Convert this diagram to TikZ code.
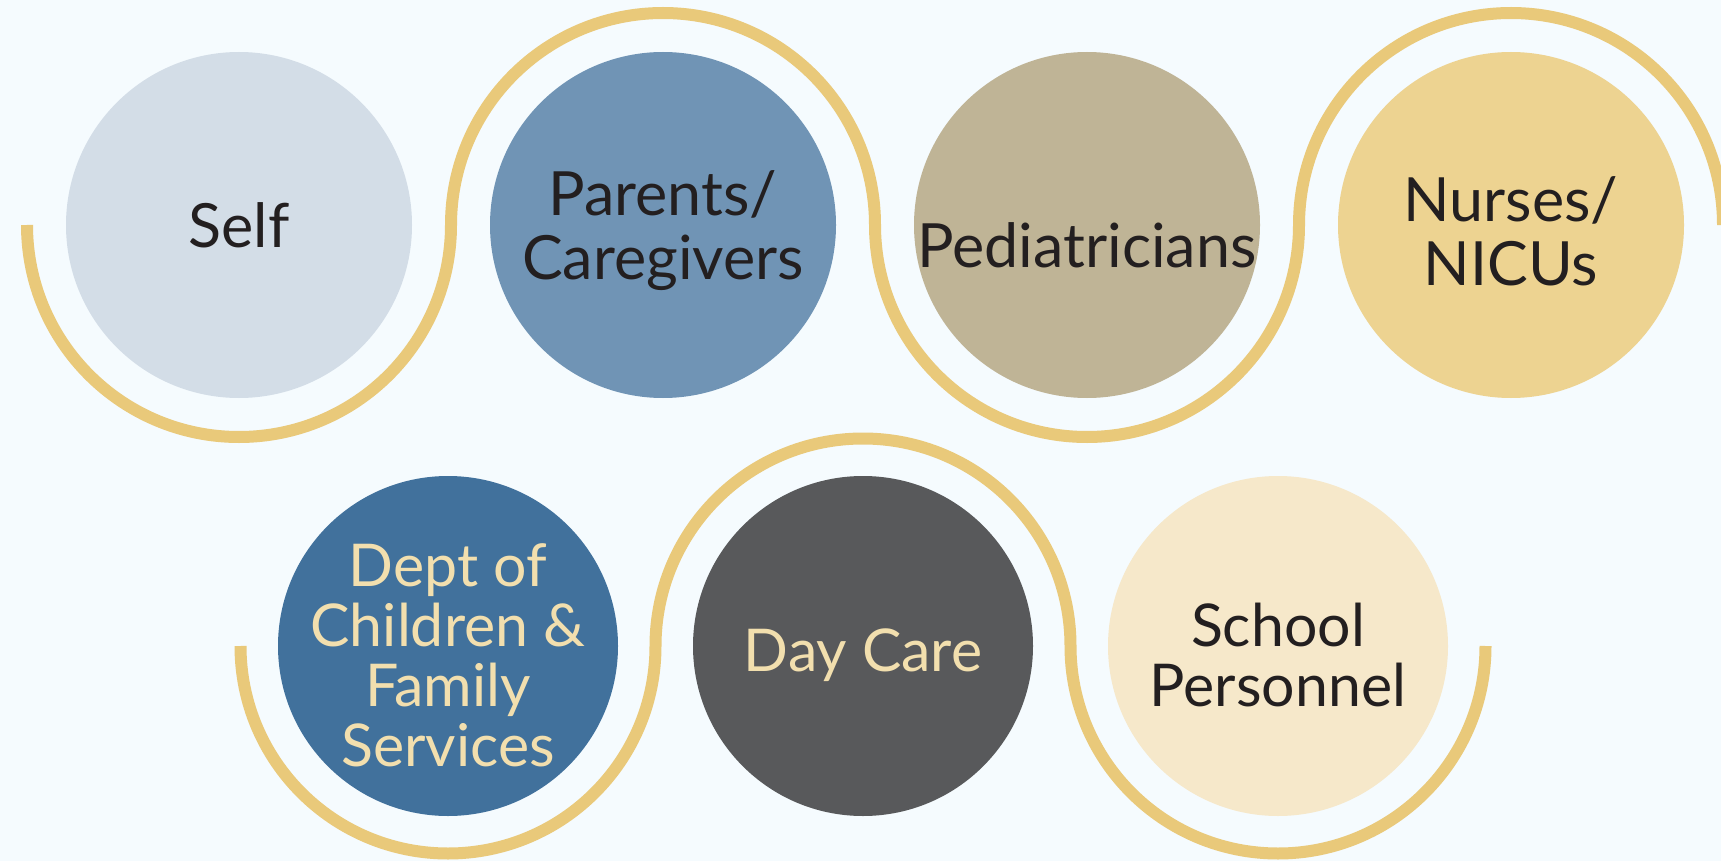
\documentclass[tikz,border=0pt]{standalone}
\usepackage{fontspec}
\setmainfont{Lato}

\definecolor{bgc}{HTML}{F5FBFE}
\definecolor{ringc}{HTML}{E9C97A}
\definecolor{selfc}{HTML}{D3DDE7}
\definecolor{parentc}{HTML}{7094B5}
\definecolor{pedc}{HTML}{BFB496}
\definecolor{nursec}{HTML}{EDD391}
\definecolor{deptc}{HTML}{41719C}
\definecolor{dayc}{HTML}{58595B}
\definecolor{schoolc}{HTML}{F6E8CA}
\definecolor{darkc}{HTML}{231F20}
\definecolor{lightc}{HTML}{F2DFAE}

\tikzset{
  bubble/.style={circle, minimum size=#1, inner sep=0pt},
  toprow/.style={bubble=346pt},
  botrow/.style={bubble=340pt},
  toptext/.style={align=center, inner sep=0pt, text=darkc, font=\fontsize{61}{64}\selectfont},
  bottext/.style={align=center, inner sep=0pt, text=darkc, yshift=-9pt, font=\fontsize{59}{60}\selectfont},
  ring/.style={draw=ringc, line width=12pt},
}

\begin{document}
\begin{tikzpicture}[x=1pt,y=1pt]
% background and canvas size
\fill[bgc] (0,0) rectangle (1721,-861);
\useasboundingbox (0,0) rectangle (1721,-861);

% ring radius for each row
\def\rtop{212pt}
\def\rbot{207.5pt}

% top row of circles
\node[toprow, fill=selfc, label={[toptext]center:Self}] (self) at (239,-225) {};
\node[toprow, fill=parentc, label={[toptext, yshift=-6pt]center:Parents/\\Caregivers}] (parents) at (663,-225) {};
\node[toprow, fill=pedc, label={[toptext, yshift=-20pt]center:Pediatricians}] (peds) at (1087,-225) {};
\node[toprow, fill=nursec, label={[toptext, yshift=-6pt]center:Nurses/\\NICUs}] (nurses) at (1511,-225) {};

% bottom row of circles
\node[botrow, fill=deptc, label={[bottext, text=lightc]center:Dept of\\Children \&\\Family\\Services}] (dept) at (448,-646) {};
\node[botrow, fill=dayc, label={[bottext, text=lightc]center:Day Care}] (daycare) at (863,-646) {};
\node[botrow, fill=schoolc, label={[bottext]center:School\\Personnel}] (school) at (1278,-646) {};

% gold line winding round the top row
\draw[ring] (self.center) ++(-\rtop,0pt)
  arc[start angle=180, end angle=360, radius=\rtop]
  arc[start angle=180, end angle=0, radius=\rtop]
  arc[start angle=180, end angle=360, radius=\rtop]
  arc[start angle=180, end angle=0, radius=\rtop];

% gold line winding round the bottom row
\draw[ring] (dept.center) ++(-\rbot,0pt)
  arc[start angle=180, end angle=360, radius=\rbot]
  arc[start angle=180, end angle=0, radius=\rbot]
  arc[start angle=180, end angle=360, radius=\rbot];

\end{tikzpicture}
\end{document}
